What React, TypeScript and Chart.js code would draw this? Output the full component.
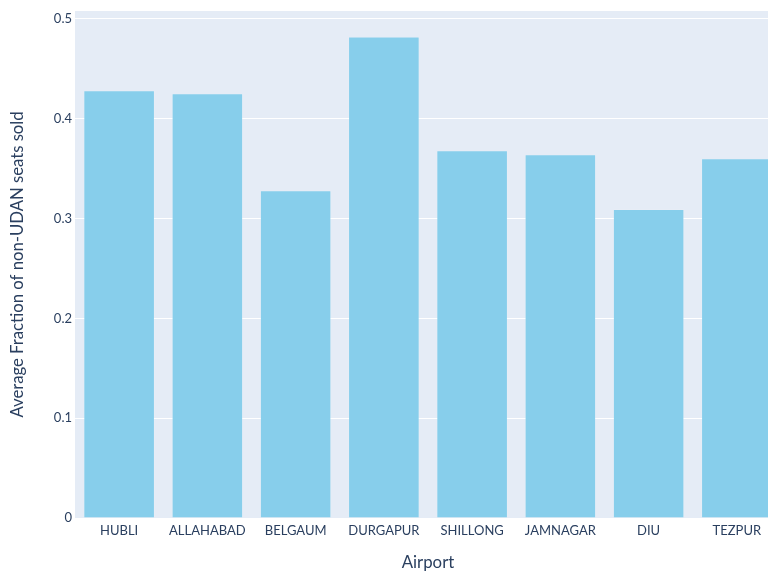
import React, { useEffect, useRef } from "react";
import { Chart, registerables } from "chart.js";

Chart.register(...registerables);

const airports = ["HUBLI", "ALLAHABAD", "BELGAUM", "DURGAPUR", "SHILLONG", "JAMNAGAR", "DIU", "TEZPUR"];
const avgFraction = [0.428, 0.425, 0.328, 0.482, 0.368, 0.364, 0.309, 0.36];
const yTicks = [0, 0.1, 0.2, 0.3, 0.4, 0.5];

const FONT = "Lato, 'Open Sans', sans-serif";
const TEXT = "#2a3f5f";

export default function App() {
  const ref = useRef<HTMLCanvasElement | null>(null);
  useEffect(() => {
    if (!ref.current) return;
    const chart = new Chart(ref.current, {
      type: "bar",
      data: {
        labels: airports,
        datasets: [
          {
            data: avgFraction,
            backgroundColor: "#87CEEB",
            borderColor: "rgba(255,255,255,0.35)",
            borderWidth: 0.5,
            categoryPercentage: 1,
            barPercentage: 0.8,
          },
        ],
      },
      options: {
        animation: false,
        responsive: true,
        maintainAspectRatio: false,
        layout: { padding: { top: 11, right: 0, bottom: 0, left: 0 } },
        plugins: { legend: { display: false }, tooltip: { enabled: false } },
        scales: {
          x: {
            grid: { display: false, drawTicks: false },
            border: { display: false },
            ticks: { color: TEXT, font: { family: FONT, size: 13 }, padding: 5, maxRotation: 0, autoSkip: false },
            title: { display: true, text: "Airport", color: TEXT, font: { family: FONT, size: 16.8 }, padding: { top: 0, bottom: -2 } },
            afterFit: (s: any) => { s.height = 53; },
          },
          y: {
            min: 0,
            max: 0.508,
            grid: { color: "#ffffff", lineWidth: 1, drawTicks: false },
            border: { display: false },
            afterBuildTicks: (s: any) => { s.ticks = yTicks.map((v) => ({ value: v })); },
            ticks: {
              color: TEXT,
              font: { family: FONT, size: 13 },
              padding: 3,
              callback: (v: any) => String(Math.round(Number(v) * 10) / 10),
            },
            title: { display: true, text: "Average Fraction of non-UDAN seats sold", color: TEXT, font: { family: FONT, size: 16.7 }, padding: { top: 8, bottom: 0 } },
            afterFit: (s: any) => { s.width = 75; },
          },
        },
      },
      plugins: [
        {
          id: "bg",
          beforeDraw: (c: any) => {
            const { ctx, chartArea } = c;
            ctx.save();
            ctx.fillStyle = "#E5ECF6";
            ctx.fillRect(chartArea.left, chartArea.top, chartArea.right - chartArea.left, chartArea.bottom - chartArea.top);
            ctx.restore();
          },
        },
      ],
    });
    return () => chart.destroy();
  }, []);
  return (
    <div style={{ position: "fixed", left: 0, top: 0, width: 768, height: 571, overflow: "hidden", background: "#fff" }}>
      <div style={{ position: "relative", width: 781, height: 571 }}>
        <canvas ref={ref} />
      </div>
    </div>
  );
}
